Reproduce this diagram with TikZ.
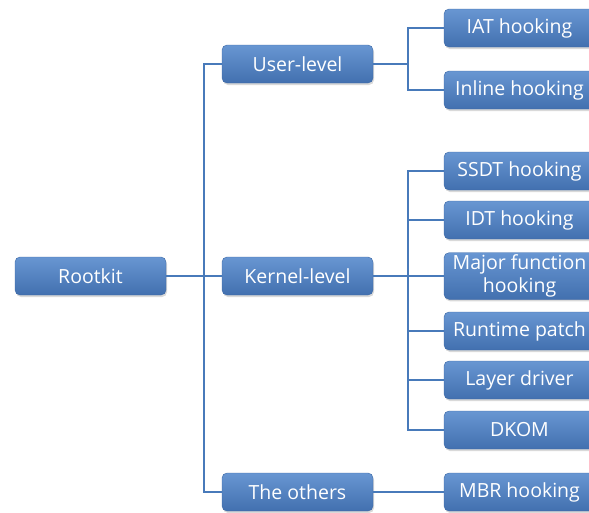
\documentclass[tikz,border=0pt]{standalone}
\usepackage{fontspec}
\setmainfont{Open Sans}
\usetikzlibrary{shadows}

\definecolor{boxtop}{RGB}{104,150,210}
\definecolor{boxbot}{RGB}{66,112,175}
\definecolor{boxline}{RGB}{60,104,165}
\definecolor{linkblue}{RGB}{72,122,186}

\tikzstyle{s} = [rectangle, rounded corners=5pt, minimum width=151pt, minimum height=38pt, inner sep=2pt, align=center, top color=boxtop, bottom color=boxbot, draw=boxline, text=white, font=\fontsize{19.5}{23}\selectfont, drop shadow={opacity=0.3, shadow xshift=1pt, shadow yshift=-2pt}]
\tikzstyle{link} = [draw=linkblue, line width=2pt]

\begin{document}
\begin{tikzpicture}[x=1pt,y=-1pt]
\clip (0,0) rectangle (589,512);

\node[s] (Rootkit) at (90.5,276) {Rootkit};

\node[s] (UserLevel) at (297.5,64) {User-level};
\node[s] (KernelLevel) at (297.5,276) {Kernel-level};
\node[s] (TheOthers) at (297.5,492) {The others};

\node[s] (IAT) at (519.5,28) {IAT hooking};
\node[s] (Inline) at (519.5,90) {Inline hooking};

\node[s] (SSDT) at (519.5,171) {SSDT hooking};
\node[s] (IDT) at (519.5,220) {IDT hooking};
\node[s] (Major) at (519.5,276) {Major function\\hooking};
\node[s] (Runtime) at (519.5,331) {Runtime patch};
\node[s] (Layer) at (519.5,380) {Layer driver};
\node[s] (DKOM) at (519.5,430) {DKOM};

\node[s] (MBR) at (519.5,492) {MBR hooking};

% trunk points
\coordinate (RootTrunk) at (204,276);
\coordinate (UserTrunk) at (408,64);
\coordinate (KernelTrunk) at (408,276);

\path[link] (Rootkit) -- (KernelLevel);
\path[link] (UserLevel.west) -| (RootTrunk) |- (TheOthers.west);

\path[link] (UserLevel) -- (UserTrunk);
\path[link] (IAT.west) -| (UserTrunk) |- (Inline.west);

\path[link] (KernelLevel) -- (KernelTrunk);
\path[link] (SSDT.west) -| (KernelTrunk) |- (DKOM.west);
\foreach \n in {IDT,Major,Runtime,Layer}
  \path[link] (\n.west) -- (\n.west -| KernelTrunk);

\path[link] (TheOthers) -- (MBR);

\end{tikzpicture}
\end{document}
